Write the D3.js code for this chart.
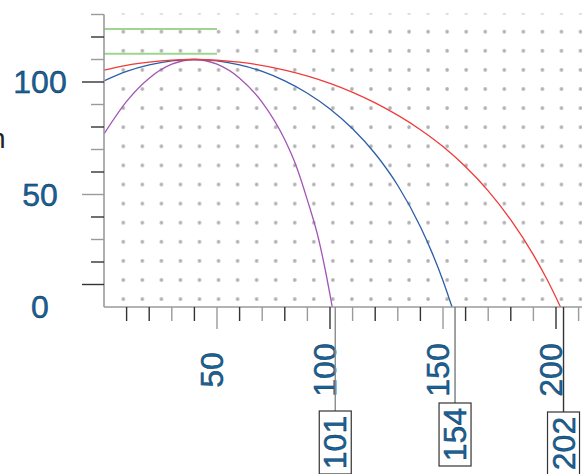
<!DOCTYPE html>
<html>
<head>
<meta charset="utf-8">
<script src="https://cdn.jsdelivr.net/npm/d3@7"></script>
<style>
  html, body { margin: 0; padding: 0; background: #ffffff; }
  svg { display: block; }
</style>
</head>
<body>
<svg id="chart" width="582" height="474"></svg>
<script>
// ---------------- data ----------------
const yTickValues = [10, 20, 30, 40, 50, 60, 70, 80, 90, 100, 110, 120, 130];
const yMajorTicks = [10, 50, 100];
const yTickLabels = [0, 50, 100];
const xTickValues = [10, 20, 30, 40, 50, 60, 70, 80, 90, 100, 110, 120, 130, 140, 150, 160, 170, 180, 190, 200, 210];
const xMajorTicks = [50, 100, 150, 200];
const xTickLabels = [50, 100, 150, 200];
const landingValues = [101, 154, 202];
const greenLevels = [123.6, 112.6];
const greenEndX = 50;

const purplePath = [[0,76.9],[10,91.4],[20,101.7],[30,107.9],[40,110],[50,107.9],[60,101.7],[70,90.9],[80,74.3],[85,62.8],[90,47.5],[95,30],[98,16],[101,0]];
const bluePath = [[0,100.5],[10,104.7],[20,107.6],[30,109.4],[40,110],[50,109.4],[60,107.6],[70,104.7],[80,100.5],[90,95.0],[100,88.0],[110,79.2],[120,68.1],[130,54.0],[140,35.7],[145,24.5],[150,11.7],[154,0]];
const redPath = [[0,105.3],[10,107.4],[20,108.8],[30,109.7],[40,110],[60,108.8],[80,105.3],[100,99.4],[120,90.7],[140,78.8],[150,71.3],[160,62.3],[170,51.6],[180,38.7],[190,23.2],[196,12.3],[202,0]];

// ---------------- layout ----------------
const svg = d3.select("#chart");
const x = d3.scaleLinear().domain([0, 200]).range([104, 556]);
const y = d3.scaleLinear().domain([0, 100]).range([307, 82]);
const plotRight = 582, plotTop = y(130);
const font = "'Liberation Sans', Arial, Helvetica, sans-serif";
const labelFill = "#16629a", labelStroke = "#0a2a42";

svg.append("rect").attr("width", 582).attr("height", 474).attr("fill", "#fff");

// dotted background
const defs = svg.append("defs");
const pat = defs.append("pattern").attr("id", "dots")
  .attr("patternUnits", "userSpaceOnUse")
  .attr("width", 19.05).attr("height", 19.1)
  .attr("x", 123.3 - 9.525).attr("y", 31.7 - 9.55);
pat.append("circle").attr("cx", 9.525).attr("cy", 9.55).attr("r", 1.8).attr("fill", "#b0b0b0");
svg.append("rect").attr("x", 107).attr("y", plotTop - 1).attr("width", plotRight - 107)
  .attr("height", y(0) - plotTop - 2).attr("fill", "url(#dots)");

// green reference lines
svg.append("g").selectAll("line").data(greenLevels).join("line")
  .attr("x1", x(0)).attr("x2", x(greenEndX))
  .attr("y1", d => y(d)).attr("y2", d => y(d))
  .attr("stroke", "#9ed68f").attr("stroke-width", 2);

// curves
const line = d3.line().x(d => x(d[0])).y(d => y(d[1])).curve(d3.curveMonotoneX);
[[purplePath, "#a256b4"], [bluePath, "#2c5ea8"], [redPath, "#f03a3a"]].forEach(([p, c]) => {
  svg.append("path").attr("d", line(p)).attr("fill", "none").attr("stroke", c).attr("stroke-width", 1.3);
});

// axes lines
svg.append("line").attr("x1", x(0)).attr("x2", x(0)).attr("y1", plotTop).attr("y2", y(0))
  .attr("stroke", "#9a9a9a").attr("stroke-width", 1.6);
svg.append("line").attr("x1", x(0)).attr("x2", plotRight).attr("y1", y(0)).attr("y2", y(0))
  .attr("stroke", "#9a9a9a").attr("stroke-width", 1.6);

const tickColor = v => ((v / 10) % 2 === 1 && v !== 10) ? "#9a9a9a" : "#333";

// y ticks
svg.append("g").selectAll("line").data(yTickValues).join("line")
  .attr("x1", d => yMajorTicks.includes(d) ? 82 : 91).attr("x2", x(0))
  .attr("y1", d => y(d)).attr("y2", d => y(d))
  .attr("stroke", tickColor).attr("stroke-width", 1.4);

// x ticks
svg.append("g").selectAll("line").data(xTickValues).join("line")
  .attr("x1", d => x(d)).attr("x2", d => x(d))
  .attr("y1", y(0)).attr("y2", d => xMajorTicks.includes(d) ? 329 : 321)
  .attr("stroke", tickColor).attr("stroke-width", 1.4);

// y labels
svg.append("g").selectAll("text").data(yTickLabels).join("text")
  .attr("x", 40).attr("y", d => y(d))
  .attr("text-anchor", "middle").attr("dominant-baseline", "central")
  .attr("font-family", font).attr("font-size", 32)
  .attr("fill", labelFill).attr("stroke", labelStroke).attr("stroke-width", 0.4)
  .text(d => d);

// x labels (rotated)
svg.append("g").selectAll("text").data(xTickLabels).join("text")
  .attr("transform", d => `translate(${x(d) - 5},370) rotate(-90)`)
  .attr("text-anchor", "middle").attr("dominant-baseline", "central")
  .attr("font-family", font).attr("font-size", 32)
  .attr("fill", labelFill).attr("stroke", labelStroke).attr("stroke-width", 0.4)
  .text(d => d);

// landing markers with boxed labels
const boxTops = [411, 403, 412];
const leaderColors = ["#8a8a8a", "#7a7a7a", "#333"];
const boxW = 32, boxH = 63;
landingValues.forEach((v, i) => {
  const cx = x(v) + 3;
  const top = boxTops[i];
  const g = svg.append("g");
  g.append("line").attr("x1", cx).attr("x2", cx).attr("y1", y(0)).attr("y2", top)
    .attr("stroke", leaderColors[i]).attr("stroke-width", 1.4);
  g.append("rect").attr("x", cx - boxW / 2).attr("y", top).attr("width", boxW).attr("height", boxH)
    .attr("fill", "#fff").attr("stroke", "#333").attr("stroke-width", 1.2);
  g.append("text")
    .attr("transform", `translate(${cx},${top + boxH / 2}) rotate(-90)`)
    .attr("text-anchor", "middle").attr("dominant-baseline", "central")
    .attr("font-family", font).attr("font-size", 32)
    .attr("fill", labelFill).attr("stroke", labelStroke).attr("stroke-width", 0.4)
    .text(v);
});

// axis title, clipped at the left edge as in the reference
svg.append("text").attr("x", 5.5).attr("y", 148).attr("text-anchor", "end")
  .attr("font-family", font).attr("font-size", 28).attr("fill", "#222")
  .text("Height in m");
</script>
</body>
</html>
